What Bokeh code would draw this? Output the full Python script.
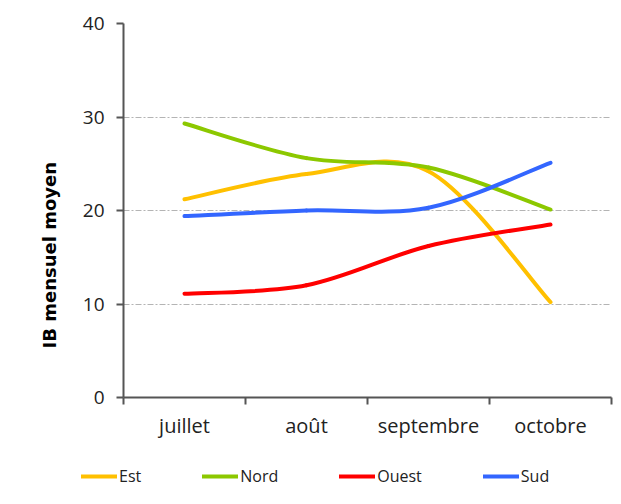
from bokeh.plotting import figure
from bokeh.layouts import column
from bokeh.models import Range1d, FixedTicker, Legend, LegendItem, Title
from bokeh.embed import file_html
from bokeh.resources import INLINE

months = ["juillet", "août", "septembre", "octobre"]
est = [21.2, 23.9, 24.2, 10.2]
nord = [29.3, 25.6, 24.6, 20.1]
ouest = [11.1, 12.0, 16.2, 18.5]
sud = [19.4, 20.0, 20.3, 25.1]
y_ticks = [0, 10, 20, 30, 40]
y_title = "IB mensuel moyen"

series = [("Est", est, "#FFC000"), ("Nord", nord, "#8CC800"),
          ("Ouest", ouest, "#FF0000"), ("Sud", sud, "#3366FF")]

FONT = "Open Sans"

main = figure(width=613, height=450, output_backend="svg", toolbar_location=None,
              x_range=Range1d(0, 4), y_range=Range1d(0, 40),
              min_border_left=123, min_border_right=2, min_border_top=23, min_border_bottom=53)
main.outline_line_color = None
main.background_fill_color = "white"
main.border_fill_color = "white"

xs = [i + 0.5 for i in range(len(months))]


def smooth_segments(x, y):
    n = len(x)
    x0, y0, x1, y1, cx0, cy0, cx1, cy1 = ([] for _ in range(8))
    for i in range(n - 1):
        im1 = max(i - 1, 0)
        ip2 = min(i + 2, n - 1)
        x0.append(x[i]); y0.append(y[i])
        x1.append(x[i + 1]); y1.append(y[i + 1])
        cx0.append(x[i] + (x[i + 1] - x[im1]) / 6.0)
        cy0.append(y[i] + (y[i + 1] - y[im1]) / 6.0)
        cx1.append(x[i + 1] - (x[ip2] - x[i]) / 6.0)
        cy1.append(y[i + 1] - (y[ip2] - y[i]) / 6.0)
    return dict(x0=x0, y0=y0, x1=x1, y1=y1, cx0=cx0, cy0=cy0, cx1=cx1, cy1=cy1)


for name, vals, col in series:
    d = smooth_segments(xs, vals)
    main.bezier(x0=d["x0"], y0=d["y0"], x1=d["x1"], y1=d["y1"],
                cx0=d["cx0"], cy0=d["cy0"], cx1=d["cx1"], cy1=d["cy1"],
                line_color=col, line_width=4, line_cap="round")

# x axis
xa = main.xaxis[0]
xa.ticker = FixedTicker(ticks=xs, minor_ticks=[0, 1, 2, 3, 4])
xa.major_label_overrides = {x: m for x, m in zip(xs, months)}
xa.major_tick_line_color = None
xa.major_tick_out = 0
xa.major_tick_in = 0
xa.minor_tick_out = 7
xa.minor_tick_in = 0
xa.minor_tick_line_color = "#555555"
xa.minor_tick_line_width = 2
xa.axis_line_color = "#555555"
xa.axis_line_width = 2
xa.major_label_standoff = 7
xa.major_label_text_font = FONT
xa.major_label_text_font_size = "20px"
xa.major_label_text_color = "#222222"

# y axis (ticks)
ya = main.yaxis[0]
ya.ticker = FixedTicker(ticks=y_ticks)
ya.minor_tick_line_color = None
ya.major_tick_out = 7
ya.major_tick_in = 0
ya.major_tick_line_color = "#555555"
ya.major_tick_line_width = 2
ya.axis_line_color = "#555555"
ya.axis_line_width = 2
ya.major_label_standoff = 12
ya.major_label_text_font = FONT
ya.major_label_text_font_size = "19px"
ya.major_label_text_color = "#222222"

# y title, placed lower than the frame centre as in the reference
main.add_layout(Title(text=y_title, align="left", offset=49, standoff=39,
                      text_font="DejaVu Sans", text_font_size="18px",
                      text_font_style="bold", text_color="#000000"), "left")

main.xgrid.grid_line_color = None
main.ygrid.grid_line_color = "#b4b4b4"
main.ygrid.grid_line_dash = "6 2 2 2"
main.ygrid.grid_line_width = 1

# legend strip below the chart
leg_fig = figure(width=613, height=46, output_backend="svg", toolbar_location=None,
                 x_range=Range1d(100, 101), y_range=Range1d(100, 101),
                 x_axis_location=None, y_axis_location=None,
                 min_border_left=0, min_border_right=0, min_border_top=0, min_border_bottom=0)
leg_fig.outline_line_color = None
leg_fig.grid.visible = False
leg_fig.background_fill_color = "white"
leg_fig.border_fill_color = "white"
if "frame_align" in leg_fig.properties():
    leg_fig.frame_align = False
    main.frame_align = False

items = []
for name, vals, col in series:
    r = leg_fig.line(x=xs, y=vals, line_color=col, line_width=4, line_cap="round")
    items.append(LegendItem(label=name, renderers=[r]))

leg = Legend(items=items, location=(81, 9), orientation="horizontal",
             border_line_color=None, background_fill_alpha=0,
             padding=0, margin=0, spacing=61,
             glyph_width=36, glyph_height=16, label_height=16, label_width=0,
             label_standoff=2, label_text_font=FONT,
             label_text_font_size="16px", label_text_color="#222222")
leg_fig.add_layout(leg)

p = column(main, leg_fig, spacing=0)

open("out.html", "w").write(file_html(p, INLINE))
